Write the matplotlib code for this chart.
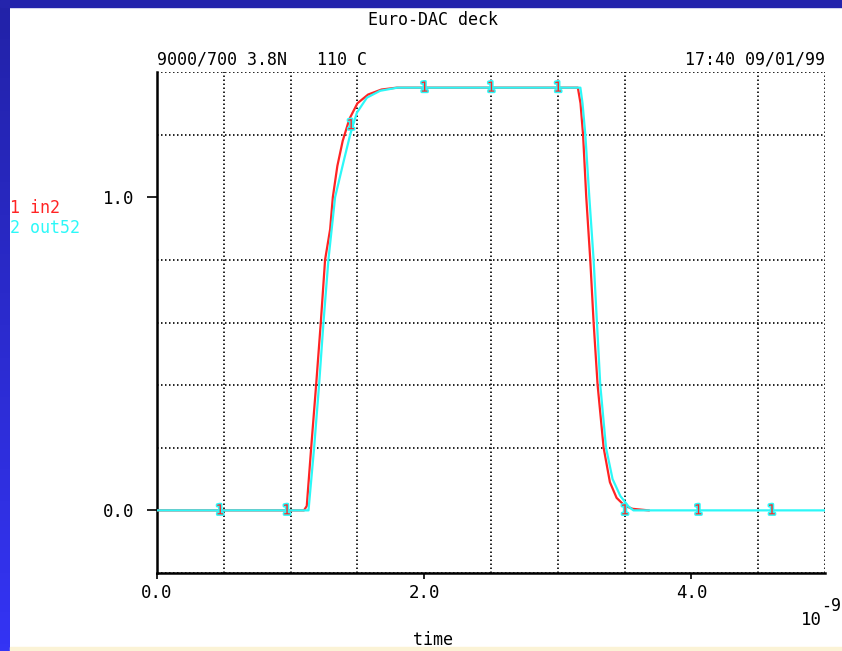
import numpy as np
import matplotlib
matplotlib.use("Agg")
import matplotlib.pyplot as plt
import matplotlib.patheffects as pe

# datos (tiempo en ns, tension en V)
t_in2 = [0.0, 1.10, 1.121, 1.154, 1.191, 1.226, 1.258, 1.296, 1.316, 1.35, 1.39,
         1.44, 1.50, 1.58, 1.68, 1.795, 1.9, 3.10, 3.15, 3.17, 3.189, 3.213,
         3.243, 3.268, 3.298, 3.343, 3.39, 3.44, 3.50, 3.56, 3.68]
v_in2 = [0.0, 0.0, 0.014, 0.2, 0.4, 0.6, 0.8, 0.898, 1.0, 1.10, 1.18,
         1.25, 1.30, 1.328, 1.344, 1.35, 1.35, 1.35, 1.35, 1.30, 1.2, 1.0,
         0.8, 0.6, 0.4, 0.2, 0.09, 0.04, 0.015, 0.005, 0.0]

t_out52 = [0.0, 1.134, 1.176, 1.213, 1.246, 1.283, 1.333, 1.40, 1.446, 1.496,
           1.571, 1.67, 1.80, 3.169, 3.185, 3.206, 3.236, 3.268, 3.293, 3.318,
           3.361, 3.41, 3.468, 3.53, 3.566, 5.0]
v_out52 = [0.0, 0.0, 0.2, 0.4, 0.6, 0.8, 1.0, 1.12, 1.20, 1.27,
           1.318, 1.34, 1.35, 1.35, 1.30, 1.2, 1.0, 0.8, 0.6, 0.4,
           0.2, 0.10, 0.046, 0.012, 0.0, 0.0]

# marcas numeradas sobre las curvas
marca_t = [0.47, 0.97, 1.45, 2.0, 2.5, 3.0, 3.5, 4.05, 4.6]
marca_v = [0.0, 0.0, 1.23, 1.35, 1.35, 1.35, 0.0, 0.0, 0.0]

xticks = [0.0, 2.0, 4.0]
yticks = [0.0, 1.0]

mono = "DejaVu Sans Mono"
rojo = "#ff2424"
cian = "#2cf8f8"

fig = plt.figure(figsize=(8.42, 6.51), dpi=100)
fig.patch.set_facecolor("white")

# marco azul y franja inferior
grad = fig.add_axes([0, 0, 10 / 842, 1])
grad.imshow(np.linspace(0, 1, 100).reshape(-1, 1), aspect="auto",
            cmap=matplotlib.colors.LinearSegmentedColormap.from_list("b", ["#2222a8", "#3434f4"]))
grad.axis("off")
fig.patches.append(plt.Rectangle((0, 1 - 7 / 651), 1, 7 / 651, transform=fig.transFigure,
                                 color="#2424ac", zorder=0))
fig.patches.append(plt.Rectangle((10 / 842, 0), 1, 4 / 651, transform=fig.transFigure,
                                 color="#fbf3d6", zorder=0))

ax = fig.add_axes([157 / 842, 78 / 651, 668 / 842, 501 / 651])
ax.set_xlim(0, 5)
ax.set_ylim(-0.2, 1.4)

ax.plot(t_in2, v_in2, color=rojo, lw=1.6, zorder=3)
ax.plot(t_out52, v_out52, color=cian, lw=1.6, zorder=4)

for tt, vv in zip(marca_t, marca_v):
    ax.text(tt, vv, "1", color=rojo, fontsize=10, family=mono, ha="center", va="center",
            zorder=5, path_effects=[pe.withStroke(linewidth=2.2, foreground=cian)])

ax.set_xticks(xticks)
ax.set_xticklabels(["0.0", "2.0", "4.0"], family=mono, fontsize=12.5)
ax.set_yticks(yticks)
ax.set_yticklabels(["0.0", "1.0"], family=mono, fontsize=12.5)
ax.set_xticks(np.arange(0.5, 5.01, 0.5), minor=True)
ax.set_yticks(np.arange(-0.2, 1.41, 0.2), minor=True)
ax.tick_params(axis="both", which="minor", length=0)
ax.tick_params(axis="x", which="major", length=4, width=1.2, pad=4)
ax.tick_params(axis="y", which="major", length=7, width=1.2, pad=9)
ax.grid(True, which="minor", color="black", linestyle=(0, (0.9, 1.5)), linewidth=1.2)

for s in ["top", "right"]:
    ax.spines[s].set_visible(False)
for s in ["left", "bottom"]:
    ax.spines[s].set_linewidth(1.8)

fig.text(433 / 842, 1 - 20 / 651, "Euro-DAC deck", family=mono, fontsize=12, ha="center", va="center")
fig.text(157 / 842, 1 - 60 / 651, "9000/700 3.8N   110 C", family=mono, fontsize=12, ha="left", va="center")
fig.text(825 / 842, 1 - 60 / 651, "17:40 09/01/99", family=mono, fontsize=12, ha="right", va="center")
fig.text(10 / 842, 1 - 208 / 651, "1 in2", family=mono, fontsize=12, color=rojo, ha="left", va="center")
fig.text(10 / 842, 1 - 228 / 651, "2 out52", family=mono, fontsize=12, color=cian, ha="left", va="center")
fig.text(822 / 842, 1 - 620 / 651, "10", family=mono, fontsize=12.5, ha="right", va="center")
fig.text(821 / 842, 1 - 606 / 651, "-9", family=mono, fontsize=12, ha="left", va="center")
fig.text(433 / 842, 1 - 640 / 651, "time", family=mono, fontsize=12, ha="center", va="center")

plt.savefig("out.png", dpi=100)
